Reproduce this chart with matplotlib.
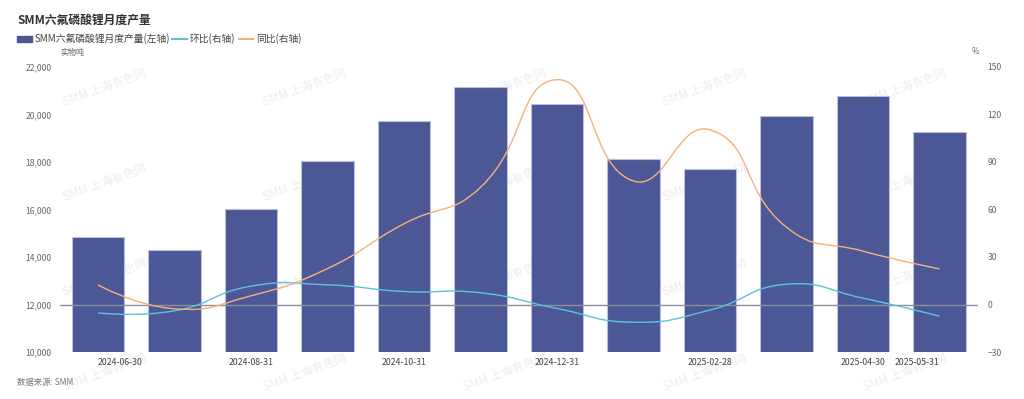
import numpy as np
import matplotlib
matplotlib.use("Agg")
import matplotlib.pyplot as plt
from matplotlib.path import Path
from matplotlib.patches import PathPatch, Rectangle
from matplotlib.lines import Line2D

plt.rcParams['font.family'] = ['Noto Sans CJK SC', 'DejaVu Sans']

months = ['2024-06-30', '2024-07-31', '2024-08-31', '2024-09-30', '2024-10-31', '2024-11-30',
          '2024-12-31', '2025-01-31', '2025-02-28', '2025-03-31', '2025-04-30', '2025-05-31']
production = [14850, 14300, 16020, 18030, 19730, 21140, 20460, 18130, 17690, 19950, 20770, 19260]
mom = [-5.3, -4.0, 11.6, 12.4, 8.2, 7.4, -2.5, -11.2, -3.5, 12.8, 4.0, -7.4]
yoy = [12.4, -2.7, 5.5, 22.7, 51.0, 74.0, 142.0, 78.0, 110.3, 48.8, 33.7, 22.5]
shown_labels = [0, 2, 4, 6, 8, 10, 11]

W, H = 1024, 399
fig = plt.figure(figsize=(W / 100, H / 100), dpi=100)
L, R, T, B = 59.75, 977.75, 67, 352
ax = fig.add_axes([L / W, 1 - B / H, (R - L) / W, (B - T) / H])
ax2 = ax.twinx()

BAR = '#4c5895'
CYAN = '#5cc3d9'
ORANGE = '#f5b17b'
GRAY = '#666666'

# watermarks (behind the bars)
for j, wy in enumerate([88, 183, 278, 373]):
    for k in range(5):
        wx = 105 + 200 * k
        ax.text(wx / W, 1 - wy / H, 'SMM 上海有色网', fontsize=8.5, color='#ededed',
                rotation=20, ha='center', va='center', zorder=0.5,
                transform=fig.transFigure, clip_on=False)

x = np.arange(len(months))
ax.bar(x, production, width=0.68, color=BAR, edgecolor='#b9bfe0', linewidth=0.8, zorder=2)
ax.set_xlim(-0.5, len(months) - 0.5)
ax.set_ylim(10000, 22000)
ax.set_yticks(np.arange(10000, 22001, 2000))
ax.set_yticklabels([f'{v:,}' for v in range(10000, 22001, 2000)])
ax2.set_ylim(-30, 150)
ax2.set_yticks(np.arange(-30, 151, 30))

for a in (ax, ax2):
    for s in a.spines.values():
        s.set_visible(False)
    a.tick_params(axis='y', length=0, labelsize=6.2, labelcolor=GRAY)
ax.tick_params(axis='y', pad=6)
ax2.tick_params(axis='y', pad=7)
ax.set_xticks(x[shown_labels])
ax.set_xticklabels([months[i] for i in shown_labels])
ax.tick_params(axis='x', length=0, labelsize=6.3, labelcolor='#444444', pad=4)
labs = ax.get_xticklabels()
labs[0].set_ha('left')
labs[-1].set_ha('right')

ax2.axhline(0, color='#8d8f9c', linewidth=1.0, zorder=1)

# smooth curves (echarts-like bezier, smooth=0.5) built from data points
px_x = (R - L) / len(months)
px_y = (B - T) / 180.0


def smooth_path(xs, ys, smooth=0.5):
    P = np.column_stack([np.asarray(xs, float) * px_x, np.asarray(ys, float) * px_y])
    n = len(P)
    verts = [P[0]]
    codes = [Path.MOVETO]
    cp_out = P[0].copy()
    for i in range(1, n):
        p = P[i]
        if i == n - 1:
            cp_in = p.copy()
            nxt_out = p.copy()
        else:
            prev, nxt = P[i - 1], P[i + 1]
            v = nxt - prev
            d0 = np.hypot(*(p - prev))
            d1 = np.hypot(*(nxt - p))
            ratio = d1 / (d0 + d1)
            cp_in = p - v * smooth * (1 - ratio)
            nxt_out = p + v * smooth * ratio
        verts += [cp_out, cp_in, p]
        codes += [Path.CURVE4] * 3
        cp_out = nxt_out
    V = np.array(verts)
    V[:, 0] /= px_x
    V[:, 1] /= px_y
    return Path(V, codes)


ax2.add_patch(PathPatch(smooth_path(x, mom), fill=False, edgecolor=CYAN, linewidth=1.0, zorder=3))
ax2.add_patch(PathPatch(smooth_path(x, yoy), fill=False, edgecolor=ORANGE, linewidth=1.0, zorder=3))

# title, legend, units, source
fig.text(17 / W, 1 - 20 / H, 'SMM六氟磷酸锂月度产量', fontsize=8.5, fontweight='bold',
         color='#333333', va='center', ha='left')
ly = 1 - 39 / H
fig.add_artist(Rectangle((17 / W, ly - 2.5 / H), 15 / W, 5 / H, transform=fig.transFigure,
                         color=BAR))
fig.text(35 / W, ly, 'SMM六氟磷酸锂月度产量(左轴)', fontsize=7, color='#444444', va='center')
fig.add_artist(Line2D([172 / W, 187 / W], [ly, ly], transform=fig.transFigure, color=CYAN, lw=1.5))
fig.text(190 / W, ly, '环比(右轴)', fontsize=7, color='#444444', va='center')
fig.add_artist(Line2D([239 / W, 253 / W], [ly, ly], transform=fig.transFigure, color=ORANGE, lw=1.5))
fig.text(256 / W, ly, '同比(右轴)', fontsize=7, color='#444444', va='center')
fig.text(72 / W, 1 - 52 / H, '实物吨', fontsize=5.8, color=GRAY, va='center', ha='center')
fig.text(975 / W, 1 - 52 / H, '%', fontsize=5.8, color=GRAY, va='center', ha='center')
fig.text(17 / W, 1 - 383 / H, '数据来源: SMM', fontsize=6, color='#777777', style='italic',
         va='center', ha='left')

fig.savefig('out.png', dpi=100)
